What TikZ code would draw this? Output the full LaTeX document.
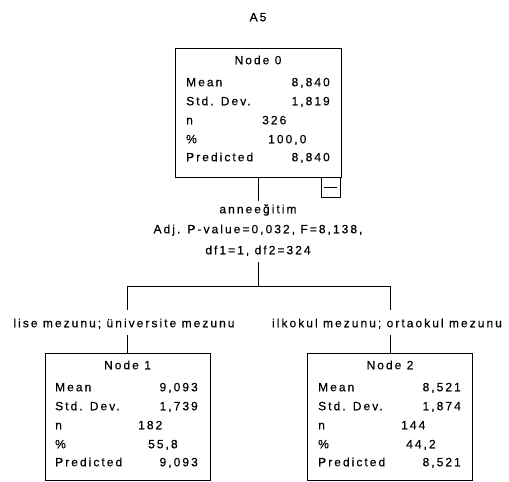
\documentclass[tikz,border=0pt]{standalone}
\usepackage{fontspec}
\setmainfont{Liberation Sans}[LetterSpace=17,FakeBold=0.4]
\begin{document}
\begin{tikzpicture}[x=1pt,y=-1pt,
  tx/.style={inner sep=0pt,font=\fontsize{12}{14}\selectfont,text height=8.5pt,text depth=2pt},
  box/.style={draw,line width=0.9pt,inner sep=0pt},
  ln/.style={line width=0.9pt}]
\useasboundingbox (0,0) rectangle (509,482);
\node[tx] (title) at (258,18) {A5};
% Node 0
\node[box,minimum width=166pt,minimum height=129pt] (n0) at (258,112.5) {};
\node[tx] (n0t) at (258,61) {Node 0};
\node[tx,anchor=west] (n0a) at (186,83) {Mean};
\node[tx,anchor=west] (n0b) at (186,102) {Std. Dev.};
\node[tx,anchor=west] (n0c) at (186,121) {n};
\node[tx,anchor=west] (n0d) at (186,140) {\%};
\node[tx,anchor=west] (n0e) at (186,158) {Predicted};
\node[tx,anchor=east] (n0av) at (330,83) {8,840};
\node[tx,anchor=east] (n0bv) at (330,102) {1,819};
\node[tx,anchor=west] (n0cv) at (262,121) {326};
\node[tx,anchor=west] (n0dv) at (268,140) {100,0};
\node[tx,anchor=east] (n0ev) at (330,158) {8,840};
\node[draw,line width=0.9pt,minimum width=19pt,minimum height=20pt,inner sep=0pt] (btn) at (330.5,187) {};
\draw[ln] ([xshift=3pt]btn.west) -- ([xshift=-3pt]btn.east);
% split label
\coordinate (s0) at (258,201);
\node[tx] (l1) at (258,210) {anneeğitim};
\node[tx] (l2) at (258,230) {Adj. P-value=0,032, F=8,138,};
\node[tx] (l3) at (258,251) {df1=1, df2=324};
\coordinate (t0) at (258,262);
\coordinate (h) at (258,286);
\coordinate (hL) at (127.5,286);
\coordinate (hR) at (390,286);
\draw[ln] (n0.south) -- (s0);
\draw[ln] (t0) -- (h);
\draw[ln] (hL) -- (hR);
% branch labels
\coordinate (bL1) at (127.5,310);
\coordinate (bL2) at (127.5,335);
\coordinate (bR1) at (390,310);
\coordinate (bR2) at (390,335);
\node[tx] (lab1) at (124,324) {lise mezunu; üniversite mezunu};
\node[tx] (lab2) at (387,324) {ilkokul mezunu; ortaokul mezunu};
\draw[ln] (hL) -- (bL1);
\draw[ln] (hR) -- (bR1);
% Node 1
\node[box,minimum width=165pt,minimum height=127pt] (n1) at (127.5,416.5) {};
\draw[ln] (bL2) -- (n1.north);
\node[tx] (n1t) at (127.5,366) {Node 1};
\node[tx,anchor=west] (n1a) at (55,388) {Mean};
\node[tx,anchor=west] (n1b) at (55,407) {Std. Dev.};
\node[tx,anchor=west] (n1c) at (55,426) {n};
\node[tx,anchor=west] (n1d) at (55,445) {\%};
\node[tx,anchor=west] (n1e) at (55,463) {Predicted};
\node[tx,anchor=east] (n1av) at (198,388) {9,093};
\node[tx,anchor=east] (n1bv) at (198,407) {1,739};
\node[tx,anchor=west] (n1cv) at (138,426) {182};
\node[tx,anchor=west] (n1dv) at (148,445) {55,8};
\node[tx,anchor=east] (n1ev) at (198,463) {9,093};
% Node 2
\node[box,minimum width=165pt,minimum height=127pt] (n2) at (390,416.5) {};
\draw[ln] (bR2) -- (n2.north);
\node[tx] (n2t) at (390,366) {Node 2};
\node[tx,anchor=west] (n2a) at (318,388) {Mean};
\node[tx,anchor=west] (n2b) at (318,407) {Std. Dev.};
\node[tx,anchor=west] (n2c) at (318,426) {n};
\node[tx,anchor=west] (n2d) at (318,445) {\%};
\node[tx,anchor=west] (n2e) at (318,463) {Predicted};
\node[tx,anchor=east] (n2av) at (461,388) {8,521};
\node[tx,anchor=east] (n2bv) at (461,407) {1,874};
\node[tx,anchor=west] (n2cv) at (401,426) {144};
\node[tx,anchor=west] (n2dv) at (406,445) {44,2};
\node[tx,anchor=east] (n2ev) at (461,463) {8,521};
\end{tikzpicture}
\end{document}
